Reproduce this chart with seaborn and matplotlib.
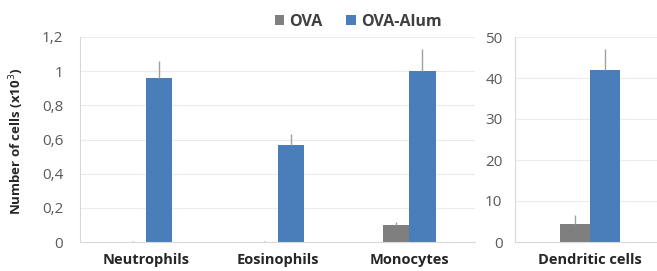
import matplotlib
matplotlib.use("Agg")
import matplotlib.pyplot as plt
from matplotlib.ticker import FuncFormatter
from matplotlib.patches import Patch
import seaborn as sns
import pandas as pd

# values
cells_left = ["Neutrophils", "Eosinophils", "Monocytes"]
ova_left = [0.002, 0.002, 0.10]
ova_left_err = [0.003, 0.003, 0.02]
alum_left = [0.96, 0.57, 1.00]
alum_left_err = [0.10, 0.06, 0.13]

cells_right = ["Dendritic cells"]
ova_right = [4.5]
ova_right_err = [2.0]
alum_right = [42.0]
alum_right_err = [5.0]

groups = ["OVA", "OVA-Alum"]
colors = {"OVA": "#7f7f7f", "OVA-Alum": "#4a7ebb"}

sns.set_theme(style="white")
plt.rcParams["font.family"] = ["Open Sans", "DejaVu Sans"]


def make_frame(cells, ova, alum, ova_err, alum_err):
    df = pd.DataFrame({
        "cell": cells * 2,
        "group": ["OVA"] * len(cells) + ["OVA-Alum"] * len(cells),
        "value": ova + alum,
        "err": ova_err + alum_err,
    })
    return df


def draw_panel(ax, df, ymax, step, fmt, ypad):
    sns.barplot(data=df, x="cell", y="value", hue="group", palette=colors,
                width=0.4, ax=ax, legend=False, errorbar=None, saturation=1,
                linewidth=0)
    # upper-only error bars on each bar
    for patch, err in zip(ax.patches, df["err"]):
        xc = patch.get_x() + patch.get_width() / 2
        top = patch.get_height()
        ax.errorbar(xc, top, yerr=[[0], [err]], fmt="none",
                    ecolor="#a0a0a0", elinewidth=1, capsize=0)
    ncat = df["cell"].nunique()
    ax.set_xlim(-0.5, ncat - 0.5)
    ax.set_ylim(0, ymax)
    ax.set_yticks([i * step for i in range(int(round(ymax / step)) + 1)])
    ax.yaxis.set_major_formatter(FuncFormatter(fmt))
    ax.grid(axis="y", color="#ececec", linewidth=0.8)
    ax.set_axisbelow(True)
    for s in ["top", "right"]:
        ax.spines[s].set_visible(False)
    for s in ["left", "bottom"]:
        ax.spines[s].set_color("#d9d9d9")
        ax.spines[s].set_linewidth(0.8)
    ax.tick_params(axis="both", length=0)
    ax.tick_params(axis="y", labelsize=11, labelcolor="#595959", pad=ypad)
    ax.tick_params(axis="x", labelsize=10.5, pad=8)
    for t in ax.get_xticklabels():
        t.set_fontweight("bold")
        t.set_color("#262626")
    ax.set_xlabel("")
    ax.set_ylabel("")


def comma(v, pos):
    if abs(v - round(v)) < 1e-9:
        return str(int(round(v)))
    return f"{v:.1f}".replace(".", ",")


fig = plt.figure(figsize=(6.57, 2.71), dpi=100)
ax1 = fig.add_axes([80 / 657, 1 - 242 / 271, 395 / 657, 205 / 271])
ax2 = fig.add_axes([515 / 657, 1 - 242 / 271, 150 / 657, 205 / 271])

draw_panel(ax1, make_frame(cells_left, ova_left, alum_left, ova_left_err, alum_left_err),
           1.2, 0.2, comma, 12)
draw_panel(ax2, make_frame(cells_right, ova_right, alum_right, ova_right_err, alum_right_err),
           50, 10, comma, 9)

fig.text(17 / 657, 1 - 141 / 271, "Number of cells (x10$^3$)", rotation=90,
         ha="center", va="center", fontsize=9.5, fontweight="bold", color="#262626")

handles = [Patch(facecolor=colors[g], edgecolor="none") for g in groups]
leg = fig.legend(handles, groups, loc="center", bbox_to_anchor=(358 / 657, 1 - 22 / 271),
                 ncol=2, frameon=False, handlelength=0.6, handleheight=0.6,
                 handletextpad=0.3, columnspacing=1.5, prop={"weight": "bold", "size": 11.5})
for t in leg.get_texts():
    t.set_color("#404040")

fig.savefig("out.png", dpi=100)
